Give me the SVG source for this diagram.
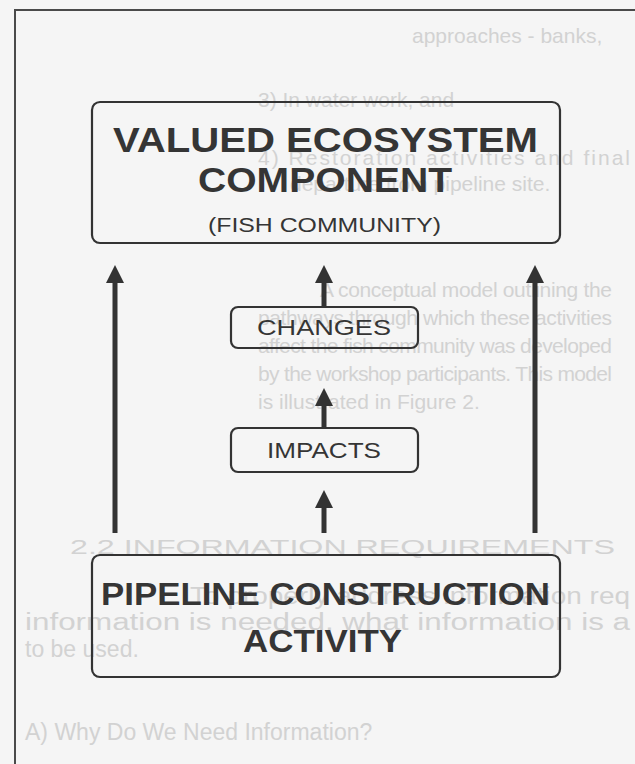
<svg xmlns="http://www.w3.org/2000/svg" width="635" height="764" viewBox="0 0 635 764">
  <style>
    .frame { fill: none; stroke: #4a4a4a; stroke-width: 2; }
    .box { fill: none; stroke: #333; stroke-width: 2.2; }
    .big { font-family: "Liberation Sans", Arial, sans-serif; font-weight: bold; fill: #353535; text-anchor: middle; }
    .small { font-family: "Liberation Sans", Arial, sans-serif; fill: #353535; text-anchor: middle; }
    .ghost { font-family: "Liberation Sans", Arial, sans-serif; fill: #d2d2d2; font-size: 21px; }
    .ghost-lg { font-size: 23px; }
    .shaft { stroke: #333; stroke-width: 5; }
    .head { fill: #333; }
  </style>
  <defs>
    <path id="arrowhead" d="M0,0 L-9,18 L9,18 Z" class="head"/>
  </defs>

  <rect width="635" height="764" fill="#f5f5f5"/>

  <!-- show-through text from the reverse of the sheet -->
  <g id="show-through">
    <text class="ghost" x="412" y="43">approaches - banks,</text>
    <text class="ghost" x="258" y="107">3) In water work, and</text>
    <text class="ghost" x="258" y="165" textLength="372" lengthAdjust="spacing">4) Restoration activities and final</text>
    <text class="ghost" x="290" y="191">departure from pipeline site.</text>
    <text class="ghost" x="320" y="297" textLength="292" lengthAdjust="spacing">A conceptual model outlining the</text>
    <text class="ghost" x="258" y="325" textLength="354" lengthAdjust="spacing">pathways through which these activities</text>
    <text class="ghost" x="258" y="353" textLength="354" lengthAdjust="spacing">affect the fish community was developed</text>
    <text class="ghost" x="258" y="381" textLength="354" lengthAdjust="spacing">by the workshop participants. This model</text>
    <text class="ghost" x="258" y="409">is illustrated in Figure 2.</text>
    <text class="ghost" x="70" y="554" font-size="30" textLength="545" lengthAdjust="spacingAndGlyphs">2.2 INFORMATION REQUIREMENTS</text>
    <text class="ghost ghost-lg" x="190" y="604" textLength="440" lengthAdjust="spacingAndGlyphs">To properly address information req</text>
    <text class="ghost ghost-lg" x="25" y="630" textLength="605" lengthAdjust="spacingAndGlyphs">information is needed, what information is a</text>
    <text class="ghost ghost-lg" x="25" y="657">to be used.</text>
    <text class="ghost ghost-lg" x="25" y="740">A) Why Do We Need Information?</text>
  </g>

  <!-- page frame -->
  <path class="frame" d="M15,764 V10 H635"/>

  <!-- connectors -->
  <g id="connectors">
    <line class="shaft" x1="115" y1="533" x2="115" y2="280"/>
    <use href="#arrowhead" x="115" y="265"/>
    <line class="shaft" x1="535" y1="533" x2="535" y2="280"/>
    <use href="#arrowhead" x="535" y="265"/>
    <line class="shaft" x1="324" y1="307" x2="324" y2="280"/>
    <use href="#arrowhead" x="324" y="265"/>
    <line class="shaft" x1="324" y1="428" x2="324" y2="403"/>
    <use href="#arrowhead" x="324" y="388"/>
    <line class="shaft" x1="324" y1="533" x2="324" y2="505"/>
    <use href="#arrowhead" x="324" y="490"/>
  </g>

  <g id="vec">
    <rect class="box" x="92" y="102" width="468" height="141" rx="8"/>
    <text class="big" x="325.5" y="152" font-size="35" textLength="425" lengthAdjust="spacingAndGlyphs">VALUED ECOSYSTEM</text>
    <text class="big" x="325" y="191.5" font-size="35" textLength="254" lengthAdjust="spacingAndGlyphs">COMPONENT</text>
    <text class="small" x="324.5" y="232" font-size="20" textLength="233" lengthAdjust="spacingAndGlyphs">(FISH COMMUNITY)</text>
  </g>

  <g id="changes">
    <rect class="box" x="231" y="307" width="187" height="41" rx="7"/>
    <text class="small" x="324" y="335" font-size="22" textLength="134" lengthAdjust="spacingAndGlyphs">CHANGES</text>
  </g>

  <g id="impacts">
    <rect class="box" x="231" y="428" width="187" height="44" rx="7"/>
    <text class="small" x="324" y="458" font-size="22" textLength="114" lengthAdjust="spacingAndGlyphs">IMPACTS</text>
  </g>

  <g id="pca">
    <rect class="box" x="92" y="555" width="468" height="122" rx="8"/>
    <text class="big" x="325.5" y="605" font-size="32" textLength="449" lengthAdjust="spacingAndGlyphs">PIPELINE CONSTRUCTION</text>
    <text class="big" x="322.5" y="652" font-size="32" textLength="159" lengthAdjust="spacingAndGlyphs">ACTIVITY</text>
  </g>
</svg>
